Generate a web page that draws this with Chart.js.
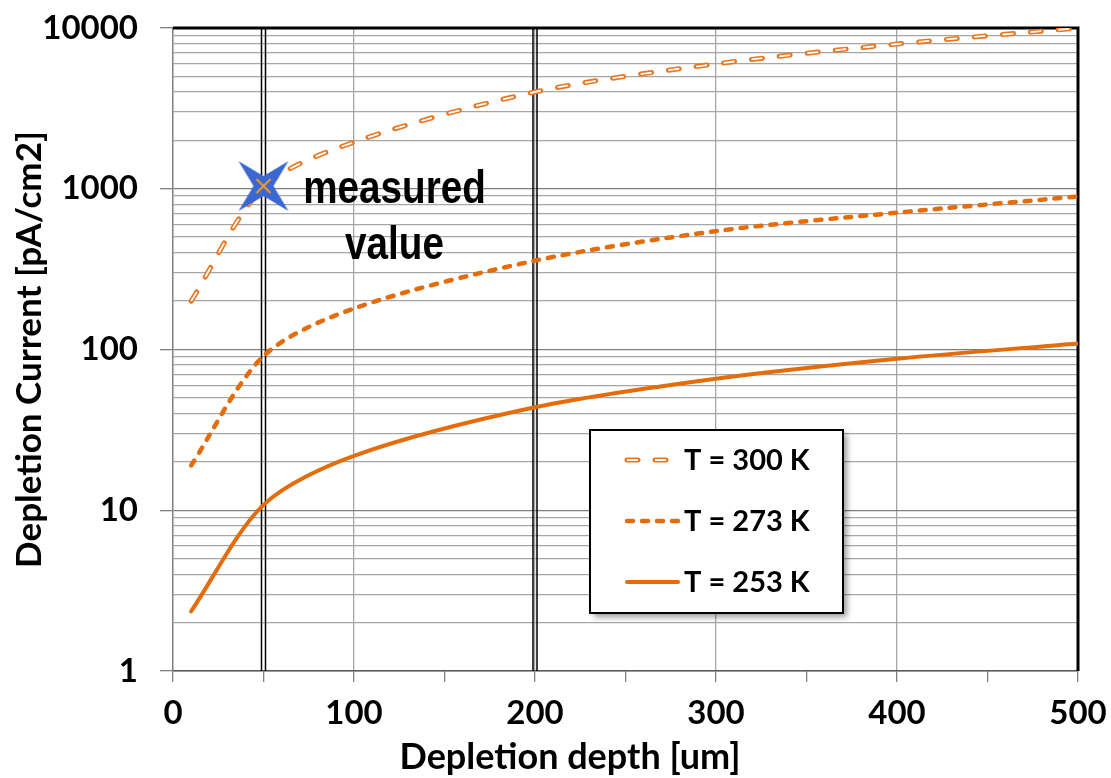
<!DOCTYPE html>
<html lang="en">
<head>
<meta charset="UTF-8">
<title>Depletion current vs depletion depth</title>
<script src="https://cdn.jsdelivr.net/npm/chart.js"></script>
<style>
  html, body { margin: 0; padding: 0; background: #fff; }
  #wrap { width: 1111px; height: 778px; }
</style>
</head>
<body>
<div id="wrap"><canvas id="chart" width="1111" height="778"></canvas></div>
<script>
// depletion depth (um)
const depths = [10, 50, 100, 200, 300, 400, 500];
// depletion current (pA/cm2)
const cur300 = [200, 1020, 1950, 4000, 5980, 7950, 10000];
const cur273 = [19, 91, 180, 357, 545, 710, 895];
const cur253 = [2.35, 10.8, 21.8, 43.7, 65.8, 87.6, 109];
const seriesNames = ['T = 300 K', 'T = 273 K', 'T = 253 K'];

// measured point and the two marker depths
const measuredX = [50];
const measuredY = [1040];
const markerDepths = [50, 200];

// axes
const xTickValues = [0, 50, 100, 150, 200, 250, 300, 350, 400, 450, 500];
const xTickLabels = [0, 100, 200, 300, 400, 500];
const yTickLabels = [1, 10, 100, 1000, 10000];
const xTitle = 'Depletion depth [um]';
const yTitle = 'Depletion Current [pA/cm2]';

const ORANGE = '#E46C0A';
const ORANGE_LT = '#EA7621';
const FONT = 'Lato, "Open Sans", sans-serif';

// line styles per series (300 K is a hollow dash: orange dash with a white core)
const styles = [
  { color: ORANGE_LT, width: 5, dash: [11, 17], cap: 'round', core: true },
  { color: ORANGE, width: 4.5, dash: [6, 9], cap: 'round' },
  { color: ORANGE, width: 4, dash: [], cap: 'round' }
];

// minor grid values 1..9 per decade
const yGridValues = [];
yTickLabels.forEach((d, i) => {
  if (i === yTickLabels.length - 1) { yGridValues.push(d); return; }
  for (let k = 1; k < 10; k++) yGridValues.push(k * d);
});

function pts(ys) { return depths.map((x, i) => ({ x: x, y: ys[i] })); }

// blue four-point star with small orange cross
function makeStar() {
  const c = document.createElement('canvas');
  c.width = 54; c.height = 54;
  const g = c.getContext('2d');
  const m = 27, r = 25, q = 10;
  g.beginPath();
  g.moveTo(m - r, m - r);
  g.lineTo(m, m - q);
  g.lineTo(m + r, m - r);
  g.lineTo(m + q, m);
  g.lineTo(m + r, m + r);
  g.lineTo(m, m + q);
  g.lineTo(m - r, m + r);
  g.lineTo(m - q, m);
  g.closePath();
  g.fillStyle = '#3A68D0';
  g.fill();
  g.strokeStyle = '#F29A30';
  g.lineWidth = 2;
  g.beginPath();
  g.moveTo(m - 7, m - 7); g.lineTo(m + 7, m + 7);
  g.moveTo(m + 7, m - 7); g.lineTo(m - 7, m + 7);
  g.stroke();
  return c;
}

function lineDataset(ys, s, core, order) {
  return {
    data: pts(ys),
    order: order,
    borderColor: core ? '#ffffff' : s.color,
    borderWidth: core ? 1.8 : s.width,
    borderDash: s.dash,
    borderCapStyle: core ? 'butt' : s.cap,
    borderJoinStyle: 'round',
    pointRadius: 0,
    tension: 0.3,
    fill: false
  };
}

const datasets = [
  lineDataset(cur300, styles[0], false, 2),
  lineDataset(cur300, styles[0], true, 1),
  lineDataset(cur273, styles[1], false, 3),
  lineDataset(cur253, styles[2], false, 4),
  {
    type: 'scatter',
    order: 0,
    data: measuredX.map((x, i) => ({ x: x, y: measuredY[i] })),
    pointStyle: makeStar(),
    pointRadius: 27,
    showLine: false
  }
];

function strokeSample(ctx, s, x1, x2, y) {
  ctx.save();
  ctx.beginPath();
  ctx.moveTo(x1, y); ctx.lineTo(x2, y);
  ctx.strokeStyle = s.color;
  ctx.lineWidth = s.width;
  ctx.lineCap = s.cap;
  ctx.setLineDash(s.dash);
  ctx.stroke();
  if (s.core) {
    ctx.beginPath();
    ctx.moveTo(x1, y); ctx.lineTo(x2, y);
    ctx.strokeStyle = '#fff';
    ctx.lineWidth = 1.8;
    ctx.lineCap = 'butt';
    ctx.stroke();
  }
  ctx.restore();
}

const decorPlugin = {
  id: 'decor',
  beforeDatasetsDraw(chart) {
    const ctx = chart.ctx, a = chart.chartArea, xs = chart.scales.x;
    ctx.save();
    // double vertical lines
    ctx.strokeStyle = '#000';
    ctx.lineWidth = 1.5;
    markerDepths.forEach(d => {
      const px = xs.getPixelForValue(d);
      [-2, 2].forEach(o => {
        ctx.beginPath();
        ctx.moveTo(px + o, a.top); ctx.lineTo(px + o, a.bottom);
        ctx.stroke();
      });
    });
    // top and right frame
    ctx.lineWidth = 3;
    ctx.beginPath();
    ctx.moveTo(a.left, a.top); ctx.lineTo(a.right, a.top); ctx.lineTo(a.right, a.bottom);
    ctx.stroke();
    ctx.restore();
  },
  afterDraw(chart) {
    const ctx = chart.ctx;
    const xs = chart.scales.x, ys = chart.scales.y;

    // x axis title (sits left of the plot centre in the original)
    ctx.save();
    ctx.fillStyle = '#000';
    ctx.font = 'bold 36px ' + FONT;
    ctx.textAlign = 'center';
    ctx.textBaseline = 'middle';
    ctx.fillText(xTitle, 570, 757);
    ctx.restore();

    // "measured value" label next to the star
    const sx = xs.getPixelForValue(measuredX[0]);
    const sy = ys.getPixelForValue(measuredY[0]);
    ctx.save();
    ctx.fillStyle = '#000';
    ctx.font = 'bold 46px "Liberation Sans", Arial, sans-serif';
    ctx.textAlign = 'center';
    ctx.textBaseline = 'alphabetic';
    ctx.translate(sx + 131, 0);
    ctx.scale(0.84, 1);
    ctx.fillText('measured', 0, sy + 17);
    ctx.fillText('value', 0, sy + 73);
    ctx.restore();

    // legend box
    const bx = 590, by = 430, bw = 253, bh = 183;
    ctx.save();
    ctx.shadowColor = 'rgba(0,0,0,0.4)';
    ctx.shadowBlur = 6;
    ctx.shadowOffsetX = 4;
    ctx.shadowOffsetY = 4;
    ctx.fillStyle = '#fff';
    ctx.fillRect(bx, by, bw, bh);
    ctx.restore();
    ctx.save();
    ctx.strokeStyle = '#000';
    ctx.lineWidth = 2;
    ctx.strokeRect(bx, by, bw, bh);
    ctx.font = 'bold 29px ' + FONT;
    ctx.fillStyle = '#000';
    ctx.textBaseline = 'middle';
    ctx.textAlign = 'left';
    seriesNames.forEach((n, i) => {
      const y = 460 + i * 61;
      strokeSample(ctx, styles[i], 627, 678, y);
      ctx.fillText(n, 684, y + 1);
    });
    ctx.restore();
  }
};

new Chart(document.getElementById('chart'), {
  type: 'line',
  data: { datasets: datasets },
  options: {
    responsive: false,
    animation: false,
    // plot area 173..1078 x 24..671 as in the original
    layout: { padding: { top: 24, right: 33, left: 0, bottom: 0 } },
    plugins: { legend: { display: false }, tooltip: { enabled: false } },
    scales: {
      x: {
        type: 'linear',
        min: 0,
        max: 500,
        afterBuildTicks: s => { s.ticks = xTickValues.map(v => ({ value: v })); },
        afterFit: s => { s.height = 107; s.paddingLeft = 0; s.paddingRight = 0; },
        ticks: {
          autoSkip: false,
          maxRotation: 0,
          padding: 12,
          color: '#000',
          font: { family: FONT, weight: 'bold', size: 33 },
          callback: v => xTickLabels.includes(v) ? String(v) : ''
        },
        grid: {
          color: c => (c.tick && c.tick.value % 100 === 0 && c.tick.value > 0) ? '#A6A6A6' : 'rgba(0,0,0,0)',
          tickColor: '#808080',
          tickLength: 11,
          lineWidth: 1.3
        },
        border: { color: '#595959', width: 1.5 }
      },
      y: {
        type: 'logarithmic',
        min: 1,
        max: 10000,
        afterBuildTicks: s => { s.ticks = yGridValues.map(v => ({ value: v })); },
        afterFit: s => { s.width = 173; s.paddingTop = 0; s.paddingBottom = 0; },
        ticks: {
          autoSkip: false,
          padding: 22,
          color: '#000',
          font: { family: FONT, weight: 'bold', size: 33 },
          callback: v => yTickLabels.includes(v) ? String(v) : ''
        },
        grid: {
          color: c => (c.tick && yTickLabels.includes(c.tick.value)) ? '#7F7F7F' : '#A6A6A6',
          tickColor: c => (c.tick && yTickLabels.includes(c.tick.value)) ? '#7F7F7F' : 'rgba(0,0,0,0)',
          tickLength: 13,
          lineWidth: 1.3
        },
        border: { color: '#7F7F7F', width: 1.5 },
        title: {
          display: true,
          text: yTitle,
          color: '#000',
          font: { family: FONT, weight: 'bold', size: 35 },
          padding: { top: 9, bottom: 0 }
        }
      }
    }
  },
  plugins: [decorPlugin]
});
</script>
</body>
</html>
